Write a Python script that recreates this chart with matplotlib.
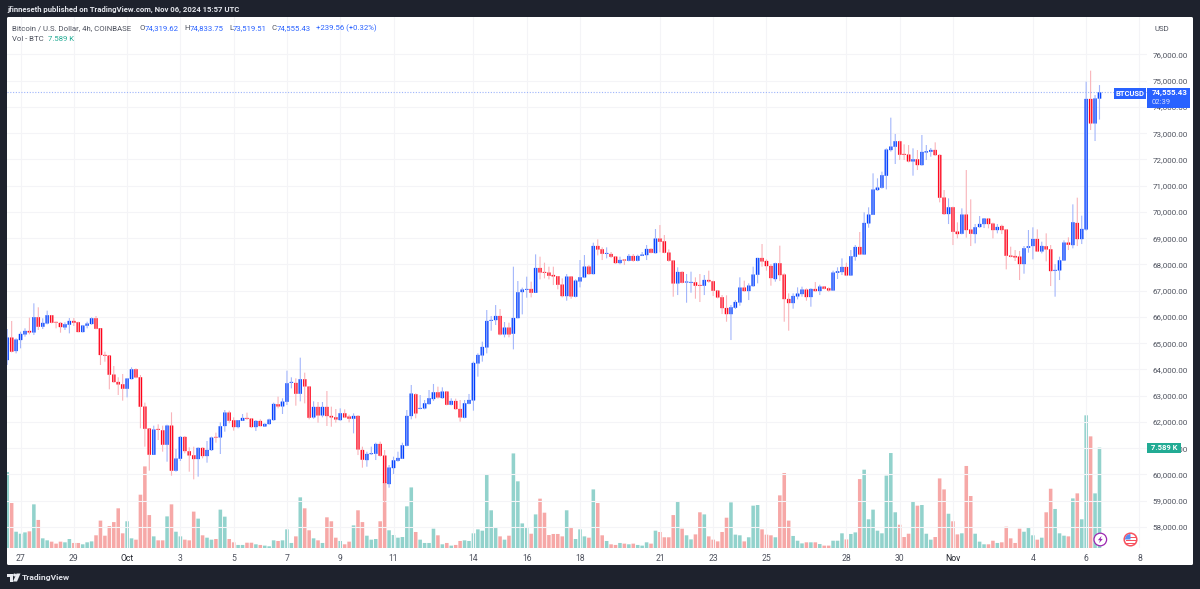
import matplotlib
matplotlib.use("Agg")
import matplotlib.pyplot as plt
import numpy as np
from matplotlib.patches import Circle, FancyBboxPatch, Polygon, Rectangle, Wedge
from matplotlib.ticker import FuncFormatter

plt.rcParams["font.family"] = ["Roboto", "DejaVu Sans"]

# 4h BTCUSD candles, 26 Sep 12:00 to 6 Nov 12:00
opens = [
    64360, 65211, 64703, 65122, 65338, 65465, 65414, 65986, 65630, 65757,
    66062, 65808, 65770, 65605, 65706, 65846, 65795, 65427, 65668, 65732,
    65948, 65567, 64551, 64525, 63801, 63522, 63433, 63268, 63636, 64004,
    63700, 62582, 61744, 60754, 61731, 61680, 61135, 61858, 60144, 60601,
    61427, 60880, 60728, 60589, 61008, 60703, 60931, 61427, 61414, 61846,
    62354, 62061, 61807, 62049, 62150, 62125, 61807, 62036, 61833, 61922,
    62074, 62671, 62595, 62772, 63497, 63484, 63077, 63623, 63344, 62176,
    62570, 62252, 62570, 62227, 62176, 62074, 62328, 62201, 62125, 62227,
    60931, 60550, 60779, 60791, 61160, 60715, 59636, 60245, 60524, 60601,
    61096, 62227, 63052, 62506, 62518, 62684, 62874, 63128, 62912, 63153,
    62658, 62798, 62493, 62163, 62696, 62823, 64233, 64538, 64842, 65858,
    65883, 66035, 65337, 65591, 65362, 65959, 66950, 67039, 67064, 66925,
    67864, 67712, 67686, 67597, 67547, 67229, 66797, 67534, 66772, 67356,
    67509, 67915, 67636, 68702, 68575, 68410, 68397, 68296, 68055, 68182,
    68144, 68321, 68144, 68334, 68359, 68588, 68435, 68982, 68880, 68448,
    68144, 67280, 67712, 67318, 67305, 67318, 67216, 67191, 67407, 67356,
    67001, 66747, 66340, 66111, 66353, 66556, 67115, 66988, 67178, 67610,
    68245, 68131, 67940, 67445, 68042, 67610, 66683, 66531, 66785, 66874,
    67039, 66760, 67064, 66988, 67153, 67089, 67013, 67686, 67712, 67902,
    67585, 68296, 68664, 68385, 69566, 69896, 70836, 70925, 71382, 72360,
    72487, 72690, 72208, 72182, 71928, 72004, 71788, 72271, 72296, 72360,
    72169, 70544, 69922, 70176, 69248, 69172, 69896, 69325, 69160, 69427,
    69541, 69744, 69553, 69312, 69464, 69325, 68334, 68321, 68296, 68017,
    68639, 68703, 68969, 68499, 68690, 68575, 67763, 67776, 68157, 68829,
    68740, 69579, 68969, 69338, 74303, 73376, 74319.62,
]
closes = [
    65211, 64680, 65135, 65351, 65465, 65414, 65986, 65630, 65770, 66062,
    65783, 65795, 65617, 65719, 65846, 65783, 65427, 65668, 65744, 65948,
    65554, 64551, 64525, 63801, 63522, 63433, 63268, 63649, 64004, 63700,
    62582, 61744, 60754, 61706, 61706, 61135, 61858, 60144, 60601, 61427,
    60893, 60728, 60589, 61008, 60703, 60931, 61401, 61414, 61833, 62354,
    62049, 61807, 62061, 62150, 62125, 61807, 62036, 61845, 61922, 62087,
    62684, 62595, 62772, 63471, 63522, 63077, 63623, 63357, 62163, 62570,
    62252, 62570, 62227, 62176, 62100, 62328, 62176, 62125, 62227, 60956,
    60563, 60779, 60804, 61160, 60715, 59674, 60258, 60537, 60626, 61109,
    62227, 63077, 62328, 62531, 62709, 62900, 63128, 62938, 63153, 62658,
    62798, 62493, 62176, 62709, 62836, 64246, 64550, 64855, 65845, 65883,
    66035, 65337, 65591, 65337, 65959, 66937, 67039, 67064, 66925, 67864,
    67699, 67686, 67572, 67547, 67229, 66797, 67534, 66785, 67381, 67509,
    67915, 67636, 68702, 68575, 68410, 68435, 68296, 68055, 68169, 68156,
    68321, 68144, 68321, 68372, 68588, 68448, 68982, 68867, 68448, 68144,
    67280, 67712, 67305, 67343, 67331, 67191, 67191, 67407, 67356, 67001,
    66747, 66340, 66111, 66366, 66569, 67115, 66988, 67191, 67610, 68245,
    68118, 67940, 67483, 68042, 67597, 66683, 66531, 66797, 66886, 67039,
    66760, 67064, 66988, 67153, 67077, 67013, 67686, 67737, 67902, 67585,
    68309, 68664, 68385, 69579, 69896, 70849, 70925, 71395, 72373, 72487,
    72690, 72182, 72182, 71928, 72004, 71788, 72284, 72309, 72360, 72169,
    70544, 69922, 70176, 69248, 69160, 69896, 69312, 69172, 69414, 69541,
    69744, 69541, 69312, 69426, 69312, 68334, 68296, 68271, 68017, 68614,
    68690, 68969, 68499, 68702, 68575, 67750, 67789, 68157, 68829, 68753,
    69604, 68969, 69350, 74303, 73376, 74319, 74555.43,
]
highs = [
    65541, 65846, 65185, 65440, 65567, 65973, 66519, 66367, 65948, 66240,
    66075, 65808, 65808, 65795, 65960, 65960, 65820, 65694, 65820, 65986,
    66036, 65567, 64677, 64525, 64131, 63700, 63827, 63674, 64080, 64042,
    63789, 62735, 61744, 61858, 61909, 61858, 61896, 62366, 60970, 61465,
    61465, 61033, 61058, 61033, 61033, 61274, 61439, 61592, 61985, 62455,
    62430, 62176, 62074, 62303, 62354, 62150, 62074, 62100, 61947, 62125,
    62734, 62963, 62900, 63954, 63700, 63662, 64449, 63877, 63369, 62785,
    62760, 62760, 63179, 62582, 62493, 62518, 62480, 62277, 62328, 62252,
    61058, 60867, 61058, 61210, 61249, 60931, 60360, 60677, 60867, 61210,
    62455, 63408, 63090, 63026, 62836, 63217, 63446, 63344, 63319, 63179,
    62900, 62887, 62836, 62836, 63065, 64297, 64614, 65058, 66264, 66035,
    66454, 66302, 65807, 65781, 67915, 67369, 67115, 67534, 67344, 68385,
    68296, 68067, 67915, 67915, 67559, 67470, 67636, 67559, 67432, 68169,
    68359, 67978, 68829, 68956, 68651, 68651, 68474, 68321, 68296, 68207,
    68397, 68397, 68372, 68474, 68740, 68613, 69350, 69502, 69121, 68575,
    68169, 67890, 67737, 67636, 67725, 67509, 67636, 67597, 67763, 67381,
    67026, 66835, 66823, 66455, 66645, 67509, 67382, 67280, 67915, 68245,
    68779, 68194, 68016, 68067, 68715, 67661, 66899, 66899, 67127, 67153,
    67089, 67089, 67331, 67229, 67178, 67127, 67763, 67890, 68232, 68067,
    68550, 68740, 69236, 69985, 70176, 71471, 71280, 71534, 72423, 73592,
    72970, 72715, 72576, 72550, 72423, 72360, 72931, 72550, 72436, 72652,
    72195, 70836, 70519, 70201, 69604, 70137, 71598, 70480, 69541, 69845,
    69757, 69769, 69591, 69541, 69515, 69350, 68677, 68550, 68512, 68702,
    69312, 69414, 69337, 68867, 69185, 68740, 68017, 68296, 68918, 69032,
    70290, 70544, 69858, 74964, 75383, 74455, 74833.75,
]
lows = [
    64170, 64650, 64614, 64805, 65249, 65338, 65313, 65503, 65541, 65719,
    65757, 65567, 65401, 65503, 65376, 65656, 65427, 65414, 65567, 65706,
    65528, 64170, 64296, 63243, 63497, 63027, 62811, 62938, 63624, 63662,
    61757, 61058, 60144, 60754, 61312, 60868, 60487, 59953, 60106, 60512,
    60804, 60106, 59814, 59916, 60614, 60449, 60893, 61211, 60779, 61630,
    61950, 61668, 61757, 62049, 62074, 61795, 61655, 61845, 61820, 61896,
    62049, 62518, 62303, 62645, 63280, 62620, 62785, 62709, 62100, 62125,
    61973, 62176, 61846, 61820, 61973, 62049, 62150, 61985, 61566, 60740,
    60258, 60296, 60740, 60550, 60677, 58900, 59496, 60017, 60486, 60588,
    61071, 62100, 62138, 62480, 62480, 62658, 62798, 62887, 62887, 62633,
    62633, 62468, 62011, 62138, 62671, 62430, 63725, 64297, 64613, 65477,
    65693, 65299, 65223, 65223, 64765, 65959, 66099, 66734, 66747, 66925,
    67432, 67470, 67432, 67216, 67051, 66747, 66620, 66696, 66747, 67127,
    67483, 67610, 67623, 68347, 68169, 68232, 68245, 68029, 68004, 67978,
    68118, 68105, 68118, 68321, 68169, 68423, 68423, 68461, 68423, 68105,
    66772, 66835, 67280, 66543, 66924, 66696, 66569, 66835, 67305, 66797,
    66708, 66111, 65819, 65121, 66302, 66429, 66962, 66645, 67153, 67280,
    67915, 67763, 67191, 67344, 67369, 65819, 65477, 66315, 66670, 66772,
    66620, 66391, 66962, 66835, 67051, 66962, 66988, 67445, 67598, 67559,
    67559, 68144, 68360, 68360, 69401, 69883, 70798, 70887, 70861, 72300,
    71827, 71979, 71979, 71890, 71382, 71598, 71763, 71979, 72106, 72131,
    70366, 69884, 69540, 68740, 68994, 69147, 69020, 68702, 68804, 69401,
    69388, 69376, 68994, 69185, 69160, 67813, 68271, 68131, 67407, 67648,
    68449, 68195, 68474, 68423, 68118, 67178, 66772, 67407, 68131, 68550,
    68613, 68702, 68778, 69287, 73122, 72703, 73519.51,
]
# volume per candle, thousands of BTC
volumes = [
    5.74, 3.40, 1.23, 1.08, 1.18, 1.26, 3.30, 2.12, 0.73, 0.58,
    0.48, 0.33, 0.48, 0.43, 0.68, 0.38, 0.38, 0.28, 0.43, 0.50,
    0.96, 2.07, 0.93, 1.66, 1.96, 3.00, 1.11, 2.02, 0.73, 0.63,
    4.03, 6.17, 2.49, 0.88, 0.58, 0.58, 2.39, 3.30, 1.23, 0.88,
    0.63, 0.58, 2.75, 2.22, 0.96, 0.78, 0.63, 0.68, 2.90, 2.37,
    0.68, 0.43, 0.23, 0.23, 0.40, 0.40, 0.28, 0.23, 0.18, 0.13,
    0.58, 0.53, 0.58, 1.41, 0.38, 0.88, 3.83, 3.00, 1.34, 0.73,
    0.58, 0.38, 2.32, 2.02, 0.78, 0.53, 0.28, 0.48, 1.71, 2.85,
    1.96, 0.93, 0.63, 0.68, 2.02, 4.99, 1.34, 0.98, 0.78, 0.83,
    3.15, 4.58, 1.21, 0.63, 0.38, 0.38, 1.46, 0.96, 0.28, 0.38,
    0.18, 0.23, 0.53, 0.58, 0.53, 1.11, 1.41, 1.31, 5.54, 2.85,
    1.51, 0.88, 0.63, 0.93, 7.15, 5.04, 1.86, 1.51, 1.08, 2.54,
    3.73, 2.67, 0.98, 1.06, 1.06, 0.88, 2.85, 1.51, 0.68, 1.41,
    0.88, 0.78, 4.43, 3.40, 0.96, 0.53, 0.28, 0.23, 0.38, 0.33,
    0.28, 0.33, 0.23, 0.18, 0.43, 0.33, 1.31, 1.21, 0.81, 0.81,
    2.49, 3.50, 1.46, 0.96, 0.65, 1.03, 2.70, 2.54, 0.88, 0.63,
    0.50, 1.21, 2.29, 3.45, 1.01, 0.96, 0.50, 0.81, 3.20, 3.25,
    1.41, 1.01, 0.96, 0.81, 3.98, 5.67, 2.07, 0.91, 0.55, 0.35,
    0.43, 0.43, 0.43, 0.30, 0.18, 0.18, 0.55, 0.55, 1.11, 0.65,
    1.06, 1.18, 5.21, 5.92, 2.17, 2.90, 1.31, 1.11, 5.47, 7.18,
    2.70, 1.76, 0.83, 1.08, 3.55, 3.20, 3.25, 1.08, 0.63, 0.83,
    5.26, 4.43, 2.59, 2.02, 1.03, 1.11, 6.20, 3.93, 1.08, 0.48,
    0.28, 0.28, 0.55, 0.38, 0.43, 1.61, 0.73, 0.38, 1.46, 1.23,
    1.51, 0.96, 0.63, 0.78, 2.70, 4.48, 2.95, 1.11, 0.93, 0.88,
    3.75, 4.13, 2.17, 10.03, 8.44, 4.13, 7.589,
]
day_ticks = [3, 15, 27, 39, 51, 63, 75, 87, 105, 117, 129, 147, 159, 171,
             189, 201, 213, 231, 243, 255]
day_labels = ["27", "29", "Oct", "3", "5", "7", "9", "11", "14", "16", "18",
              "21", "23", "25", "28", "30", "Nov", "4", "6", "8"]
price_ticks = list(range(58000, 77000, 1000))
last_price = 74555.43

BLUE = "#0040ff"
RED = "#ff0018"
WICK_BLUE = "#a3b6fb"
WICK_RED = "#f9b4ba"
GRID = "#f4f4f7"
DARK = "#1e222d"
TEXT = "#4e525e"
BADGE = "#2962ff"
W, H = 1200, 589


def px_axes(fig, left, top, right, bottom, **kw):
    return fig.add_axes([left / W, 1 - bottom / H, (right - left) / W,
                         (bottom - top) / H], **kw)


def soft_bars(container):
    # snapping to whole pixels makes the gaps uneven at this candle spacing
    for patch in container:
        patch.set_snap(False)


fig = plt.figure(figsize=(W / 100, H / 100), dpi=100, facecolor=DARK)

# background panel, in pixel coordinates
bg = px_axes(fig, 0, 0, W, H, zorder=0)
bg.set_xlim(0, W)
bg.set_ylim(H, 0)
bg.axis("off")
bg.add_patch(FancyBboxPatch((7, 17), 1186, 548, boxstyle="round,pad=0,rounding_size=1.5",
                            fc="white", ec="none"))

opens = np.array(opens)
closes = np.array(closes)
highs = np.array(highs)
lows = np.array(lows)
volumes = np.array(volumes)
idx = np.arange(len(opens))
up = closes >= opens

# volume pane sits under the candles and shares the x scale
ax_vol = px_axes(fig, 7, 17, 1147, 548, zorder=1)
ax_vol.patch.set_alpha(0)
soft_bars(ax_vol.bar(idx[up], volumes[up], width=0.8, color="#26a69a", alpha=0.5, lw=0))
soft_bars(ax_vol.bar(idx[~up], volumes[~up], width=0.8, color="#ef5350", alpha=0.5, lw=0))
ax_vol.set_ylim(0, 40.14)
ax_vol.axis("off")

ax = px_axes(fig, 7, 17, 1147, 548, zorder=2)
ax.patch.set_alpha(0)
ax.set_ylim(57198, 77427)
ax.set_xlim(-0.05, 256.7)
ax_vol.set_xlim(ax.get_xlim())

ax.grid(True, color=GRID, lw=0.8)
ax.set_axisbelow(True)
for s in ax.spines.values():
    s.set_visible(False)

ax.vlines(idx[up], lows[up], highs[up], color=WICK_BLUE, lw=0.8).set_snap(False)
ax.vlines(idx[~up], lows[~up], highs[~up], color=WICK_RED, lw=0.8).set_snap(False)
tops = np.maximum(opens, closes)
bots = np.minimum(opens, closes)
soft_bars(ax.bar(idx[up], (tops - bots)[up], bottom=bots[up], width=0.72, color=BLUE, lw=0.2, edgecolor=BLUE))
soft_bars(ax.bar(idx[~up], (tops - bots)[~up], bottom=bots[~up], width=0.72, color=RED, lw=0.2, edgecolor=RED))
ax.axhline(last_price, color="#9db4fb", lw=0.8, ls=(0, (1, 1.5)))

ax.yaxis.tick_right()
ax.set_yticks(price_ticks)
ax.yaxis.set_major_formatter(FuncFormatter(lambda v, _: f"{v:,.2f}"))
ax.set_xticks(day_ticks)
ax.set_xticklabels(day_labels)
ax.tick_params(axis="y", length=0, labelsize=5.8, labelcolor=TEXT, pad=4)
ax.tick_params(axis="x", length=0, labelsize=6.2, labelcolor=TEXT, pad=4.2)
for lab in ax.get_xticklabels():
    if lab.get_text() in ("Oct", "Nov"):
        lab.set_color("#1f222b")

# header, badges and icons on top of everything, in pixel coordinates
top = px_axes(fig, 0, 0, W, H, zorder=5)
top.set_xlim(0, W)
top.set_ylim(H, 0)
top.axis("off")
top.patch.set_alpha(0)

top.text(7, 9.5, "jfinneseth published on TradingView.com, Nov 06, 2024 15:57 UTC",
         color="#e4e6ec", fontsize=5.6, fontweight="bold", va="center")

legend_y = 29.8
top.text(12, legend_y, "Bitcoin / U.S. Dollar, 4h, COINBASE", color=TEXT, fontsize=5.6, va="baseline")
for lx, vx, lab, val in [(140, 144.5, "O", "74,319.62"), (184, 189.5, "H", "74,833.75"),
                         (229, 233, "L", "73,519.51"), (272, 277, "C", "74,555.43")]:
    top.text(lx, legend_y, lab, color=TEXT, fontsize=5.6, va="baseline")
    top.text(vx, legend_y, val, color=BADGE, fontsize=5.6, va="baseline")
top.text(316, legend_y, "+239.56 (+0.32%)", color=BADGE, fontsize=5.6, va="baseline")
top.text(12, 41, "Vol - BTC", color=TEXT, fontsize=5.6, va="baseline")
top.text(48.5, 41, "7.589 K", color="#22ab94", fontsize=5.6, va="baseline")

top.text(1161.5, 29, "USD", color=TEXT, fontsize=5.6, ha="center", va="center")

# last price tags
top.add_patch(Rectangle((1114, 88), 32, 10.5, fc=BADGE, ec="none"))
top.text(1130, 93.5, "BTCUSD", color="white", fontsize=5.5, fontweight="bold", ha="center", va="center")
top.add_patch(Rectangle((1147, 88), 43, 19.5, fc=BADGE, ec="none"))
top.text(1151.5, 93, "74,555.43", color="white", fontsize=5.7, fontweight="bold", va="center")
top.text(1151.5, 102, "02:39", color="#d5deff", fontsize=5.5, va="center")
top.add_patch(Rectangle((1147, 442.5), 34, 10.5, fc="#22ab94", ec="none"))
top.text(1164, 447.8, "7.589 K", color="white", fontsize=5.5, fontweight="bold", ha="center", va="center")

# lightning event marker
top.add_patch(Circle((1100.3, 539.5), 6.3, fc="white", ec="#9c27b0", lw=0.9))
top.add_patch(Polygon([(1101.6, 535.8), (1097.9, 540.2), (1100, 540.2), (1099, 543.2),
                       (1102.8, 538.9), (1100.7, 538.9)], fc="#9c27b0", ec="none"))

# US flag event marker
top.add_patch(Circle((1130.5, 539.5), 6.3, fc="white", ec="#f7525f", lw=1.1))
for sy in (537.2, 540.3, 543):
    top.add_patch(Rectangle((1125.5, sy), 10, 1, fc="#f7525f", ec="none"))
top.add_patch(Wedge((1130.5, 539.5), 5.5, 180, 270, fc="#5b8def", ec="none"))

# TradingView logo at the bottom left
top.add_patch(Polygon([(7, 573.5), (13, 573.5), (13, 581.5), (10, 581.5), (10, 576.5), (7, 576.5)],
                      fc="#e8eaf0", ec="none"))
top.add_patch(Circle((14.6, 575), 1.5, fc="#e8eaf0", ec="none"))
top.add_patch(Polygon([(16.5, 573.5), (20.5, 573.5), (17, 581.5), (13, 581.5)], fc="#e8eaf0", ec="none"))
top.text(22, 577.5, "TradingView", color="#dfe1e8", fontsize=6.1, fontweight="bold", va="center")

fig.savefig("out.png", dpi=100, facecolor=DARK)
